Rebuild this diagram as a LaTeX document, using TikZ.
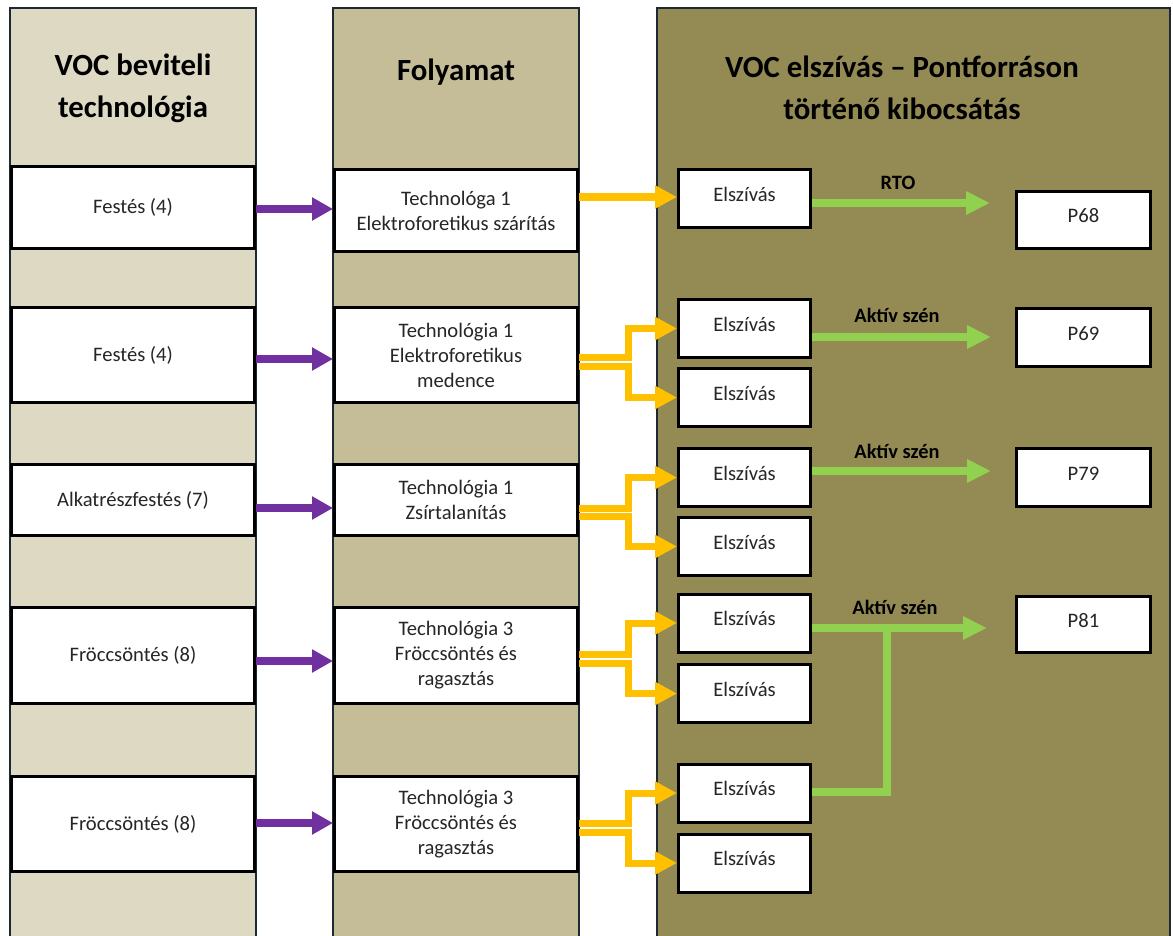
\documentclass[tikz,border=0pt]{standalone}
\usepackage{fontspec}
\setmainfont{Carlito}
\usetikzlibrary{arrows.meta,calc}
\definecolor{colA}{HTML}{DDD9C3}
\definecolor{colB}{HTML}{C4BD97}
\definecolor{colC}{HTML}{948A54}
\definecolor{edge}{HTML}{1C2833}
\definecolor{vpurple}{HTML}{7030A0}
\definecolor{vyellow}{HTML}{FFC000}
\definecolor{vgreen}{HTML}{92D050}
\definecolor{txt}{HTML}{262626}
\begin{document}
\begin{tikzpicture}[x=1pt,y=-1pt,
  column/.style={draw=edge,line width=2.5pt},
  box/.style={draw=black,line width=3pt,fill=white,inner sep=0pt,align=center,text=txt,font=\fontsize{20.6}{25}\selectfont},
  lbox/.style={box,minimum width=243pt},
  ebox/.style={box,minimum width=132pt,minimum height=58pt,text height=15pt,text depth=10pt},
  pbox/.style={box,minimum width=134pt,text height=15pt,text depth=10pt},
  hdr/.style={font=\fontsize{30.8}{42}\selectfont\bfseries,align=center,text=black,inner sep=0pt},
  lbl/.style={font=\fontsize{20.4}{24}\selectfont\bfseries,text=black,inner sep=0pt},
  parr/.style={draw=vpurple,line width=8pt,-{Triangle[length=21pt,width=22pt]}},
  yarr/.style={draw=vyellow,line width=8pt,-{Triangle[length=22pt,width=22pt]}},
  yfork/.style={yarr,line width=7pt},
  garr/.style={draw=vgreen,line width=8pt,-{Triangle[length=24pt,width=22pt]}},
  gline/.style={draw=vgreen,line width=8pt}
]
\useasboundingbox (0,0) rectangle (1173,936);
\clip (0,0) rectangle (1173,936);
\fill[white] (0,0) rectangle (1173,936);

% columns
\draw[column,fill=colA] (10,8) rectangle (256,950);
\draw[column,fill=colB] (333,8) rectangle (579,950);
\draw[column,fill=colC] (657,8) rectangle (1170,950);

% headers
\node[hdr] (h1) at (133,88) {VOC beviteli\\technológia};
\node[hdr,anchor=base] (h2) at (456,81) {Folyamat};
\node[hdr] (h3) at (902,88) {VOC elszívás – Pontforráson\\történő kibocsátás};

% left boxes
\node[lbox,minimum height=82pt] (l1) at (133,207.5) {Festés (4)};
\node[lbox,minimum height=95pt] (l2) at (133,355) {Festés (4)};
\node[lbox,minimum height=71pt] (l3) at (133,500) {Alkatrészfestés (7)};
\node[lbox,minimum height=96pt] (l4) at (133,655.5) {Fröccsöntés (8)};
\node[lbox,minimum height=95pt] (l5) at (133,824) {Fröccsöntés (8)};

% middle boxes
\node[lbox,minimum height=82pt] (m1) at (456,210.5) {Technológa 1\\Elektroforetikus szárítás};
\node[lbox,minimum height=95pt] (m2) at (456,355) {Technológia 1\\Elektroforetikus\\medence};
\node[lbox,minimum height=71pt] (m3) at (456,500) {Technológia 1\\Zsírtalanítás};
\node[lbox,minimum height=96pt] (m4) at (456,655.5) {Technológia 3\\Fröccsöntés és\\ragasztás};
\node[lbox,minimum height=95pt] (m5) at (456,824) {Technológia 3\\Fröccsöntés és\\ragasztás};

% Elszívás boxes
\node[ebox] (e1) at (744.5,199) {Elszívás};
\node[ebox] (e2a) at (744.5,328.5) {Elszívás};
\node[ebox] (e2b) at (744.5,397.5) {Elszívás};
\node[ebox] (e3a) at (744.5,477.5) {Elszívás};
\node[ebox] (e3b) at (744.5,546.5) {Elszívás};
\node[ebox] (e4a) at (744.5,623) {Elszívás};
\node[ebox] (e4b) at (744.5,693.5) {Elszívás};
\node[ebox] (e5a) at (744.5,793) {Elszívás};
\node[ebox] (e5b) at (744.5,863) {Elszívás};

% P boxes
\node[pbox,minimum height=57pt] (p68) at (1083.5,220) {P68};
\node[pbox,minimum height=58pt] (p69) at (1083.5,337.5) {P69};
\node[pbox,minimum height=58pt] (p79) at (1083.5,477.5) {P79};
\node[pbox,minimum height=56pt] (p81) at (1083.5,624.5) {P81};

% purple arrows
\draw[parr] ([yshift=-1.5pt]l1.east) -- ([yshift=1.5pt]m1.west);
\draw[parr] ([yshift=-4pt]l2.east) -- ([yshift=-4pt]m2.west);
\draw[parr] ([yshift=-8pt]l3.east) -- ([yshift=-8pt]m3.west);
\draw[parr] ([yshift=-5.5pt]l4.east) -- ([yshift=-5.5pt]m4.west);
\draw[parr] ([yshift=1pt]l5.east) -- ([yshift=1pt]m5.west);

% yellow arrows
\draw[yarr] ([yshift=13.5pt]m1.east) -- ([yshift=2pt]e1.west);
\draw[yfork] ([yshift=-11pt]m2.east) -| ($(e2b.west)+(-49,0)$) -- (e2b.west);
\draw[yfork] ([yshift=-2pt]m2.east) -| ($(e2a.west)+(-49,0)$) -- (e2a.west);
\draw[yfork] ([yshift=-16pt]m3.east) -| ($(e3b.west)+(-49,0)$) -- (e3b.west);
\draw[yfork] ([yshift=-8pt]m3.east) -| ($(e3a.west)+(-49,0)$) -- (e3a.west);
\draw[yfork] ([yshift=-7.5pt]m4.east) -| ($(e4b.west)+(-49,0)$) -- (e4b.west);
\draw[yfork] ([yshift=1.5pt]m4.east) -| ($(e4a.west)+(-49,0)$) -- (e4a.west);
\draw[yfork] ([yshift=-8pt]m5.east) -| ($(e5b.west)+(-49,0)$) -- (e5b.west);
\draw[yfork] ([yshift=1pt]m5.east) -| ($(e5a.west)+(-49,0)$) -- (e5a.west);

% green arrows
\coordinate (g1) at (990,203);
\coordinate (g2) at (991,337);
\coordinate (g3) at (991,471);
\coordinate (g4) at (987,628);
\coordinate (gj) at (887,628);
\draw[garr] ([yshift=-4pt]e1.east) -- (g1);
\draw[garr] ([yshift=-8.5pt]e2a.east) -- (g2);
\draw[garr] ([yshift=6.5pt]e3a.east) -- (g3);
\draw[gline] ([yshift=1pt]e5a.east) -| (gj);
\draw[garr] ([yshift=-5pt]e4a.east) -- (g4);

% labels
\node[lbl] (t1) at (898,183) {RTO};
\node[lbl] (t2) at (897,315) {Aktív szén};
\node[lbl] (t3) at (897,451) {Aktív szén};
\node[lbl] (t4) at (895,607) {Aktív szén};
\end{tikzpicture}
\end{document}
